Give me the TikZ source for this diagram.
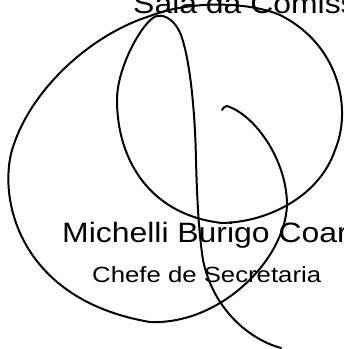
\documentclass[tikz,border=0pt]{standalone}
\usepackage{fontspec}
\setmainfont{Liberation Sans}
\usepackage{tikz}

\begin{document}
\begin{tikzpicture}[x=1pt,y=-1pt,
  sig/.style={line width=2pt, line cap=round, line join=round},
  txt/.style={anchor=base west, inner sep=0pt, transform shape}]
\useasboundingbox (0,0) rectangle (344,349);
\clip (0,0) rectangle (344,349);

%Curve Lines [id:da4418230957126] descender up to the peak
\draw [sig] (281,348) .. controls (245,338) and (212,305) .. (203,260) .. controls (199,235) and (197,200) .. (196,160) .. controls (195,110) and (190,60) .. (181,35) .. controls (176,22) and (166,14) .. (157,16) ;
%Curve Lines [id:da7730915468203] inner loop
\draw [sig] (157,16) .. controls (145,18) and (117,65) .. (117,100) .. controls (117,160) and (150,215) .. (222,223) .. controls (270,222) and (320,195) .. (335,150) ;
%Curve Lines [id:da1985530742648] outer loop
\draw [sig] (335,150) .. controls (352,110) and (340,45) .. (280,15) .. controls (250,2) and (190,0) .. (150,16) .. controls (90,35) and (30,90) .. (12,150) .. controls (-2,200) and (20,300) .. (150,322) .. controls (220,325) and (285,260) .. (287,205) .. controls (287,160) and (255,115) .. (227,106) .. controls (225,106) and (223,108) .. (222,110) ;

% Text Node
\draw (133,13) node (sala) [txt, xscale=1.14] [font=\fontsize{28}{30}\selectfont] {Sala da Comiss};
% Text Node
\draw (62,242) node (nome) [txt, xscale=1.14] [font=\fontsize{28}{30}\selectfont] {Michelli Burigo Coar};
% Text Node
\draw (92,282) node (cargo) [txt, xscale=1.17] [font=\fontsize{22}{24}\selectfont] {Chefe de Secretaria};

\end{tikzpicture}
\end{document}
